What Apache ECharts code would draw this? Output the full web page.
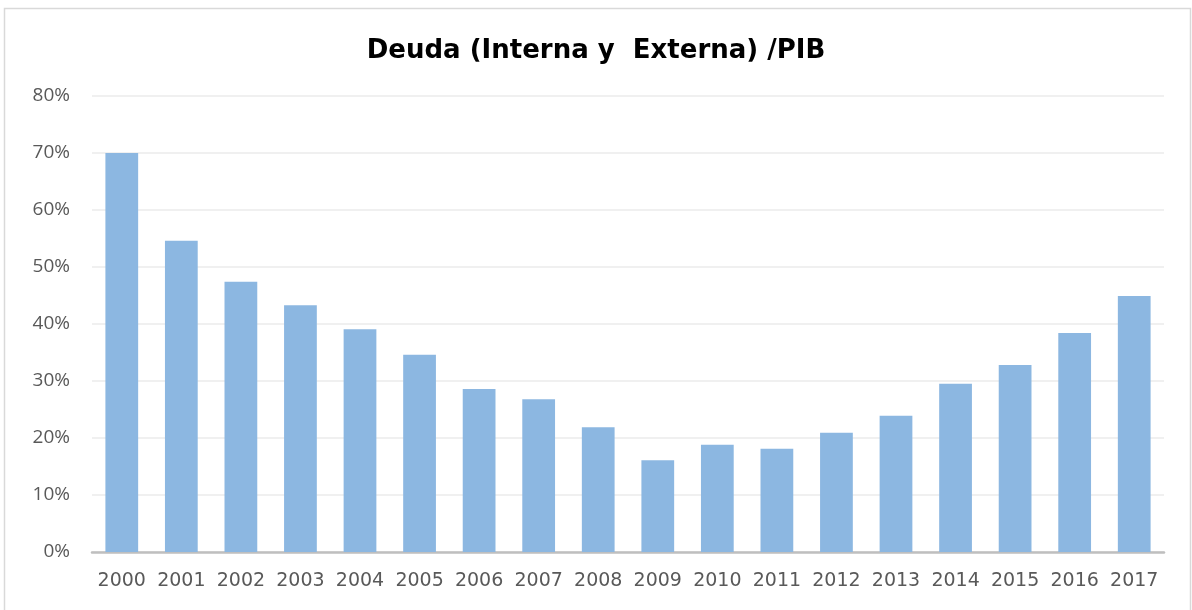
<!DOCTYPE html>
<html><head><meta charset="utf-8">
<script src="https://cdn.jsdelivr.net/npm/echarts@6/dist/echarts.min.js"></script>
<style>html,body{margin:0;padding:0;background:#fff}#c{width:1192px;height:610px}</style>
</head><body><div id="c"></div>
<script>
const categories = ['2000','2001','2002','2003','2004','2005','2006','2007','2008','2009','2010','2011','2012','2013','2014','2015','2016','2017'];
const values = [70.0, 54.6, 47.4, 43.3, 39.1, 34.6, 28.6, 26.8, 21.9, 16.1, 18.8, 18.1, 20.9, 23.9, 29.5, 32.8, 38.4, 44.9];
const titleText = 'Deuda (Interna y  Externa) /PIB';

const chart = echarts.init(document.getElementById('c'), null, {renderer:'canvas'});
chart.setOption({
  animation: false,
  backgroundColor: '#fff',
  graphic: [{type:'rect', shape:{x:4.5,y:8.5,width:1186,height:610}, style:{fill:'none', stroke:'#d9d9d9', lineWidth:1.5}}],
  title: {text: titleText, left:'center', top: 33,
    textStyle:{fontFamily:'DejaVu Sans', fontWeight:'bold', fontSize:26, color:'#000'}},
  grid: {left:92, right:28, top:96, bottom:58, containLabel:false},
  xAxis: {type:'category', data: categories,
    axisLine:{lineStyle:{color:'#bfbfbf', width:2.5}},
    axisTick:{show:false},
    axisLabel:{interval:0, fontFamily:'DejaVu Sans', fontSize:19, color:'#595959', margin:20}},
  yAxis: {type:'value', min:0, max:80, interval:10,
    axisLine:{show:false}, axisTick:{show:false},
    splitLine:{lineStyle:{color:'#ebebeb', width:1.5}},
    axisLabel:{formatter:'{value}%', fontFamily:'Open Sans', fontSize:19, color:'#595959', margin:22}},
  series: [{type:'bar', data: values, barWidth:'55%',
    itemStyle:{color:'#8cb7e1'}}]
});
</script></body></html>
